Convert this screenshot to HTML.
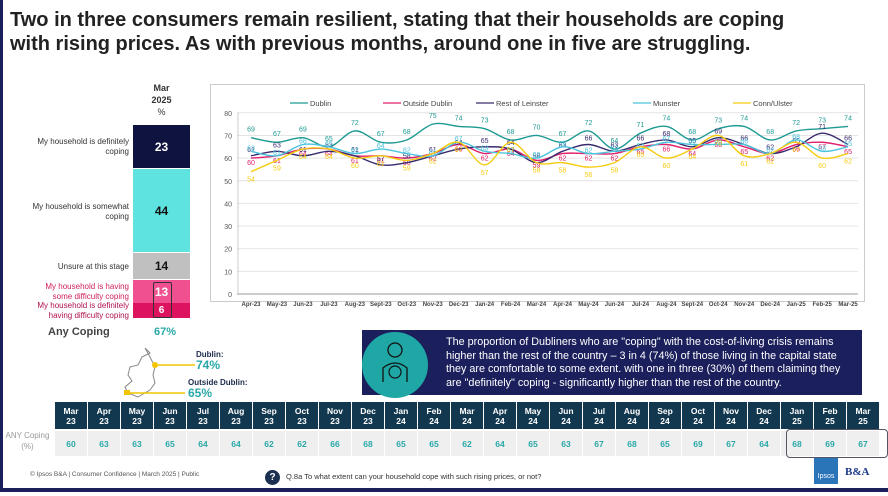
<!DOCTYPE html><html><head><meta charset="utf-8"><style>
body{margin:0;width:888px;height:492px;overflow:hidden;background:#fff;font-family:"Liberation Sans",sans-serif;position:relative}
.a{position:absolute}
.title{left:10px;top:8px;font-size:20px;font-weight:bold;color:#222;line-height:24px;width:870px;white-space:nowrap}
.lbl{font-size:8px;color:#333;text-align:right;width:105px;left:24px;line-height:10px}
.seg{left:133px;width:57px;text-align:center;font-weight:bold;font-size:12px;display:flex;align-items:center;justify-content:center}
td{padding:0;text-align:center}
</style></head><body>
<div class="a" style="left:0;top:0;width:3px;height:492px;background:#1b1f5c"></div>
<div class="a" style="left:0;top:488px;width:888px;height:4px;background:#1b1f5c"></div>
<div class="a title">Two in three consumers remain resilient, stating that their households are coping<br>with rising prices. As with previous months, around one in five are struggling.</div>
<div class="a" style="left:133px;top:82px;width:57px;text-align:center;font-size:9px;font-weight:bold;color:#333;line-height:12px">Mar<br>2025<br><span style="font-weight:normal">%</span></div>
<div class="a seg" style="top:125px;height:43px;background:#0f1340;color:#fff">23</div>
<div class="a seg" style="top:169px;height:83px;background:#5fe3e0;color:#111">44</div>
<div class="a seg" style="top:253px;height:26px;background:#c0c0c0;color:#111">14</div>
<div class="a seg" style="top:280px;height:23px;background:#f0508f;color:#fff">13</div>
<div class="a seg" style="top:303px;height:15px;background:#dd1360;color:#fff;font-size:10px">6</div>
<div class="a" style="left:153px;top:282px;width:17px;height:34px;border:1px solid #333;border-radius:2px"></div>
<div class="a lbl" style="top:137px">My household is definitely coping</div>
<div class="a lbl" style="top:202px">My household is somewhat coping</div>
<div class="a lbl" style="top:262px">Unsure at this stage</div>
<div class="a lbl" style="top:282px;color:#d0205e">My household is having some difficulty coping</div>
<div class="a lbl" style="top:301px;color:#b0104e">My household is definitely having difficulty coping</div>
<div class="a" style="left:48px;top:326px;font-size:11px;font-weight:bold;color:#444">Any Coping</div>
<div class="a" style="left:154px;top:326px;font-size:11px;font-weight:bold;color:#2aa8a8">67%</div>
<svg class="a" style="left:120px;top:345px" width="80" height="60"><path d="M25 3 L30 8 L22 12 L18 20 L10 22 L8 30 L12 36 L5 42 L8 48 L18 52 L30 45 L35 38 L33 30 L35 22 L30 12 Z" fill="#fff" stroke="#888" stroke-width="1"/><line x1="35" y1="20" x2="75" y2="20" stroke="#f2c500" stroke-width="1.5"/><circle cx="35" cy="20" r="3" fill="#f2c500"/><line x1="7" y1="48" x2="65" y2="48" stroke="#f2c500" stroke-width="1.5"/><rect x="4" y="45" width="6" height="5" fill="#f2c500"/></svg>
<div class="a" style="left:196px;top:350px;font-size:8px;font-weight:bold;color:#1b2a4a">Dublin:</div>
<div class="a" style="left:196px;top:358px;font-size:12px;font-weight:bold;color:#2aa8a8">74%</div>
<div class="a" style="left:188px;top:378px;font-size:8px;font-weight:bold;color:#1b2a4a">Outside Dublin:</div>
<div class="a" style="left:188px;top:386px;font-size:12px;font-weight:bold;color:#2aa8a8">65%</div>
<div class="a" style="left:210px;top:84px;width:653px;height:216px;border:1px solid #ccc"></div>
<svg class="a" id="ch" style="left:0;top:0" width="888" height="330"></svg>
<div class="a" style="left:362px;top:330px;width:500px;height:65px;background:#1b1f5c"></div>
<div class="a" style="left:362px;top:332px;width:66px;height:66px;border-radius:50%;background:#1fa7a5"></div>
<svg class="a" style="left:380px;top:340px" width="30" height="50"><circle cx="15" cy="10" r="7" fill="none" stroke="#111" stroke-width="1.3"/><path d="M3 42 V28 Q15 18 27 28 V42" fill="none" stroke="#111" stroke-width="1.3"/><circle cx="15" cy="32" r="6" fill="none" stroke="#111" stroke-width="1.2"/></svg>
<div class="a" style="left:446px;top:336px;width:402px;font-size:10.8px;color:#fff;line-height:13.5px">The proportion of Dubliners who are "coping" with the cost-of-living crisis remains higher than the rest of the country – 3 in 4 (74%) of those living in the capital state they are comfortable to some extent. with one in three (30%) of them claiming they are "definitely" coping - significantly higher than the rest of the country.</div>
<div class="a" style="left:0;top:430px;width:55px;font-size:8px;color:#999;text-align:center;line-height:11px">ANY Coping<br>(%)</div>
<div class="a" id="tb" style="left:55px;top:400px"></div>
<div class="a" style="left:786px;top:429px;width:100px;height:27px;border:1px solid #556;border-radius:4px"></div>
<div class="a" style="left:30px;top:471px;font-size:6.5px;color:#555">© Ipsos B&amp;A | Consumer Confidence | March 2025 | Public</div>
<div class="a" style="left:265px;top:470px;width:15px;height:15px;border-radius:50%;background:#1b3050;color:#fff;font-size:10px;font-weight:bold;text-align:center;line-height:15px">?</div>
<div class="a" style="left:286px;top:472px;font-size:7.5px;color:#333">Q.8a To what extent can your household cope with such rising prices, or not?</div>
<div class="a" style="left:814px;top:458px;width:24px;height:26px;background:#2a74b8;color:#fff;font-size:7px;text-align:center;line-height:38px">Ipsos</div>
<div class="a" style="left:845px;top:466px;font-size:11px;font-weight:bold;color:#1b3a8a;font-family:'Liberation Serif',serif">B&amp;A</div>
<script>
var D={"#1d9a93":[69,67,69,65,72,67,68,75,74,73,68,70,67,72,64,71,74,68,73,74,68,72,73,74],
"#e0206a":[60,61,64,64,61,61,60,62,66,62,64,59,62,62,62,65,66,64,68,65,62,66,67,65],
"#3a2a6e":[61,63,61,63,61,57,58,61,64,65,64,58,63,66,63,66,68,65,69,66,62,65,71,66],
"#4cc4dc":[63,61,66,65,62,64,62,61,67,63,62,60,65,62,63,64,67,66,66,66,62,68,63,65],
"#f5cc10":[54,59,64,64,60,61,59,62,67,57,67,58,58,56,58,65,60,64,70,61,62,67,60,62]};
var M=["Apr-23","May-23","Jun-23","Jul-23","Aug-23","Sept-23","Oct-23","Nov-23","Dec-23","Jan-24","Feb-24","Mar-24","Apr-24","May-24","Jun-24","Jul-24","Aug-24","Sept-24","Oct-24","Nov-24","Dec-24","Jan-25","Feb-25","Mar-25"];
function X(i){return 251+i*25.96}function Y(v){return 294-v*2.265}
var s='';
for(var v=0;v<=80;v+=10){s+='<line x1="237" x2="858" y1="'+Y(v)+'" y2="'+Y(v)+'" stroke="'+(v?'#e4e4e4':'#999')+'"/><text x="232" y="'+(Y(v)+3)+'" font-size="7" fill="#555" text-anchor="end">'+v+'</text>';}
s+='<line x1="238" x2="238" y1="'+Y(80)+'" y2="'+Y(0)+'" stroke="#ccc"/>';
M.forEach(function(m,i){s+='<text x="'+X(i)+'" y="306" font-size="6" font-weight="bold" fill="#444" text-anchor="middle">'+m+'</text>';});
var L=[["Dublin","#1d9a93",290],["Outside Dublin","#e0206a",383],["Rest of Leinster","#3a2a6e",476],["Munster","#4cc4dc",633],["Conn/Ulster","#f5cc10",733]];
L.forEach(function(l){s+='<line x1="'+l[2]+'" x2="'+(l[2]+18)+'" y1="103" y2="103" stroke="'+l[1]+'" stroke-width="1.3"/><text x="'+(l[2]+20)+'" y="106" font-size="7.5" fill="#444">'+l[0]+'</text>';});
var off={"#1d9a93":-6,"#e0206a":7,"#3a2a6e":-4,"#4cc4dc":-1,"#f5cc10":10};
for(var c in D){var d=D[c],p='M'+X(0)+' '+Y(d[0]);
for(var i=0;i<d.length-1;i++){var x0=X(Math.max(i-1,0)),y0=Y(d[Math.max(i-1,0)]),x1=X(i),y1=Y(d[i]),x2=X(i+1),y2=Y(d[i+1]),x3=X(Math.min(i+2,23)),y3=Y(d[Math.min(i+2,23)]);
p+=' C'+(x1+(x2-x0)/6)+' '+(y1+(y2-y0)/6)+' '+(x2-(x3-x1)/6)+' '+(y2-(y3-y1)/6)+' '+x2+' '+y2;}
s+='<path d="'+p+'" fill="none" stroke="'+c+'" stroke-width="1.4"/>';
d.forEach(function(v,i){s+='<text x="'+X(i)+'" y="'+(Y(v)+off[c])+'" font-size="7" fill="'+c+'" text-anchor="middle">'+v+'</text>';});}
document.getElementById('ch').innerHTML=s;
var H=["Mar 23","Apr 23","May 23","Jun 23","Jul 23","Aug 23","Sep 23","Oct 23","Nov 23","Dec 23","Jan 24","Feb 24","Mar 24","Apr 24","May 24","Jun 24","Jul 24","Aug 24","Sep 24","Oct 24","Nov 24","Dec 24","Jan 25","Feb 25","Mar 25"];
var V=[60,63,63,65,64,64,62,62,66,68,65,65,62,64,65,63,67,68,65,69,67,64,68,69,67];
var t='<table style="border-collapse:separate;border-spacing:1px 2px;margin-left:-1px"><tr>';
H.forEach(function(h){var q=h.split(' ');t+='<td style="width:32px;height:27px;background:#12384f;color:#fff;font-size:8.5px;font-weight:bold;line-height:10px">'+q[0]+'<br>'+q[1]+'</td>';});
t+='</tr><tr>';V.forEach(function(v){t+='<td style="height:25px;background:#efefef;color:#2aa8a8;font-size:8.5px;font-weight:bold">'+v+'</td>';});
document.getElementById('tb').innerHTML=t+'</tr></table>';
</script>
</body></html>
